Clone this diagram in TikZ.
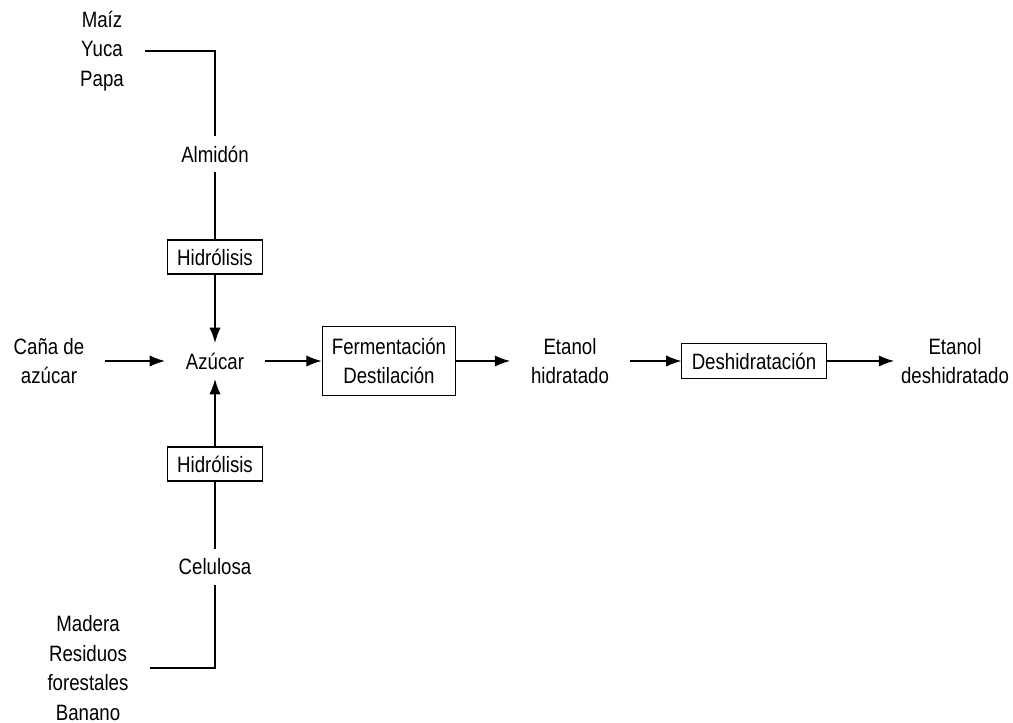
\documentclass[tikz,border=0pt]{standalone}
\usepackage{fontspec}
\setmainfont{Liberation Sans}[FakeStretch=0.84]
\usetikzlibrary{arrows.meta,positioning}
\tikzset{
	paso/.style={
		rectangle,
		draw=black,
		line width=0.8pt,
		inner xsep=7pt,
		minimum height=0.85cm,
		align=center
	},
	texto/.style={
		align=center,
		inner sep=0pt,
		outer xsep=15pt,
		outer ysep=7pt
	},
	flecha/.style={
		draw=black,
		line width=0.8pt,
		-{Latex[length=3.8mm,width=2.8mm]}
	},
	linea/.style={
		draw=black,
		line width=0.8pt
	},
}

\begin{document}
\begin{tikzpicture}[x=0.025cm,y=-0.025cm,font=\fontsize{15.8}{21}\selectfont]
	\useasboundingbox (0,0) rectangle (1013,723);
	\node [texto] (maiz) at (102,51) {Maíz\\Yuca\\Papa};
	\node [texto] (almidon) at (215,154) {Almidón};
	\node [paso] (hidro1) at (215,257) {Hidrólisis};
	\node [texto] (azucar) at (215,361) {Azúcar};
	\node [texto] (cana) at (49,361) {Caña de\\azúcar};
	\node [paso,minimum height=1.725cm] (ferm) at (389,361) {Fermentación\\Destilación};
	\node [texto] (etanolh) at (570,361) {Etanol\\hidratado};
	\node [paso,minimum height=0.875cm] (deshid) at (754,361) {Deshidratación};
	\node [texto,outer xsep=5pt] (etanold) at (955,361) {Etanol\\deshidratado};
	\node [paso] (hidro2) at (215,464) {Hidrólisis};
	\node [texto] (celulosa) at (215,567) {Celulosa};
	\node [texto] (madera) at (88,668) {Madera\\Residuos\\forestales\\Banano};

	\draw[linea] (maiz.east) -| (almidon.north);
	\draw[linea] (madera.east) -| (celulosa.south);
	\path[linea]
		(almidon) edge (hidro1)
		(celulosa) edge (hidro2)
		;
	\path[flecha]
		(hidro1) edge (azucar)
		(hidro2) edge (azucar)
		(cana) edge (azucar)
		(azucar) edge (ferm)
		(ferm) edge (etanolh)
		(etanolh) edge (deshid)
		(deshid) edge (etanold)
		;
\end{tikzpicture}
\end{document}
